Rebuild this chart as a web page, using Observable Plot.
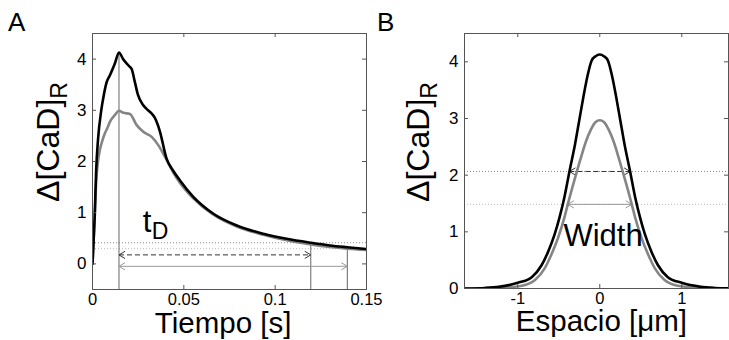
<!DOCTYPE html>
<html>
<head>
<meta charset="utf-8">
<script src="https://cdn.jsdelivr.net/npm/d3@7"></script>
<script src="https://cdn.jsdelivr.net/npm/@observablehq/plot@0.6"></script>
<style>
  body { margin: 0; background: #fff; }
  #fig { position: relative; width: 729px; height: 340px; font-family: "Liberation Sans", Arial, sans-serif; }
  #fig .panel { position: absolute; top: 0; }
  #fig .letter { position: absolute; font-size: 26px; line-height: 1; color: #000; }
</style>
</head>
<body>
<div id="fig"></div>
<script>
// ---- Panel A: time course of Δ[CaD]R at the release site ----
const timeBlack = [0, 0.0006, 0.0012, 0.002, 0.003, 0.0048, 0.0062, 0.0076, 0.0096, 0.0123, 0.0145,
  0.0169, 0.0201, 0.0215, 0.0232, 0.0249, 0.0278, 0.0304, 0.0323, 0.034, 0.0368, 0.0406, 0.044,
  0.0479, 0.0552, 0.0662, 0.079, 0.0935, 0.1063, 0.1195, 0.130, 0.1395, 0.15];
const cadBlack = [0, 0.45, 0.92, 1.83, 2.42, 3.0, 3.3, 3.53, 3.69, 3.92, 4.13,
  3.99, 3.86, 3.8, 3.55, 3.3, 3.1, 3.0, 2.94, 2.86, 2.6, 2.05, 1.83,
  1.63, 1.31, 0.98, 0.75, 0.59, 0.49, 0.413, 0.36, 0.325, 0.29];
const timeGray = [0, 0.0006, 0.0012, 0.002, 0.003, 0.004, 0.0055, 0.0068, 0.0082, 0.0096, 0.0123, 0.0145,
  0.0169, 0.0205, 0.0242, 0.0278, 0.0324, 0.036, 0.0397, 0.044, 0.0479, 0.0552, 0.0662, 0.079,
  0.0935, 0.1063, 0.1195, 0.130, 0.1395, 0.15];
const cadGray = [0, 0.45, 0.9, 1.6, 2.0, 2.22, 2.42, 2.55, 2.66, 2.78, 2.91, 2.99,
  2.95, 2.93, 2.71, 2.58, 2.48, 2.32, 2.09, 1.8, 1.58, 1.28, 0.96, 0.73,
  0.57, 0.46, 0.38, 0.33, 0.297, 0.27];

// decay time t_D: from the peak to 10 % of the peak
const tPeak = 0.0145;
const peakBlack = 4.13;
const levelBlackA = 0.413;
const levelGrayA = 0.297;
const tEndBlack = 0.1195;
const tEndGray = 0.1395;
const arrowBlackA = 0.176;
const arrowGrayA = -0.047;

// ---- Panel B: spatial profile at the peak ----
const posBlack = [-1.65, -1.4, -1.23, -1.0, -0.83, -0.71, -0.63, -0.55, -0.49, -0.43, -0.37, -0.3, -0.25,
  -0.2, -0.15, -0.1, -0.05, 0, 0.05, 0.1, 0.15, 0.2, 0.25, 0.3, 0.37, 0.43, 0.49, 0.55, 0.63, 0.71,
  0.83, 1.0, 1.23, 1.4, 1.65];
const profBlack = [0, 0.01, 0.03, 0.1, 0.2, 0.41, 0.65, 0.96, 1.26, 1.62, 2.065, 2.56, 2.97,
  3.38, 3.75, 4.02, 4.10, 4.13, 4.10, 4.02, 3.75, 3.38, 2.97, 2.56, 2.065, 1.62, 1.26, 0.96, 0.65, 0.41,
  0.2, 0.1, 0.03, 0.01, 0];
const posGray = [-1.65, -1.4, -1.23, -0.95, -0.79, -0.67, -0.59, -0.51, -0.43, -0.39, -0.3, -0.23, -0.17,
  -0.11, -0.05, 0, 0.05, 0.11, 0.17, 0.23, 0.3, 0.39, 0.43, 0.51, 0.59, 0.67, 0.79, 0.95, 1.23, 1.4, 1.65];
const profGray = [0, 0.0, 0.01, 0.05, 0.15, 0.36, 0.6, 0.89, 1.26, 1.485, 1.96, 2.31, 2.59,
  2.8, 2.94, 2.97, 2.94, 2.8, 2.59, 2.31, 1.96, 1.485, 1.26, 0.89, 0.6, 0.36, 0.15, 0.05, 0.01, 0.0, 0];

// full width at half maximum
const levelBlackB = 2.065;
const levelGrayB = 1.485;
const halfBlackB = 0.37;
const halfGrayB = 0.39;

// ---- ticks ----
const xTicksA = [0, 0.05, 0.1, 0.15];
const xTickTextA = ["0", "0.05", "0.1", "0.15"];
const xTicksB = [-1, 0, 1];
const xTickTextB = ["-1", "0", "1"];
const yTicks = [0, 1, 2, 3, 4];
const yTickText = ["0", "1", "2", "3", "4"];

const FONT = '"Liberation Sans", Arial, sans-serif';
const H = 340;
const BLACK = "#000";
const GRAY = "#858585";
const AXIS = "#555";

const rows = (xs, ys) => xs.map((x, i) => ({x, y: ys[i]}));
const lookup = (ticks, text) => { const m = new Map(ticks.map((t, i) => [t, text[i]])); return d => m.get(d); };

// open arrowheads (chevrons) whose tip sits on the anchor point
const headLeft = {draw(ctx, size) { const r = Math.sqrt(size / Math.PI); ctx.moveTo(r, -0.6 * r); ctx.lineTo(0, 0); ctx.lineTo(r, 0.6 * r); }};
const headRight = {draw(ctx, size) { const r = Math.sqrt(size / Math.PI); ctx.moveTo(-r, -0.6 * r); ctx.lineTo(0, 0); ctx.lineTo(-r, 0.6 * r); }};

// frame, inward ticks on all four sides and tick labels
function axesMarks(xTicks, xText, innerW, innerH) {
  return [
    Plot.frame({stroke: AXIS, strokeWidth: 1}),
    Plot.tickX(xTicks, {x: d => d, insetTop: innerH - 4, stroke: AXIS}),
    Plot.tickX(xTicks, {x: d => d, insetBottom: innerH - 4, stroke: AXIS}),
    Plot.tickY(yTicks, {y: d => d, insetRight: innerW - 4, stroke: AXIS}),
    Plot.tickY(yTicks, {y: d => d, insetLeft: innerW - 4, stroke: AXIS}),
    Plot.axisX(xTicks, {tickSize: 0, tickPadding: 4, fontSize: 16.5, label: null, tickFormat: lookup(xTicks, xText)}),
    Plot.axisY(yTicks, {tickSize: 0, tickPadding: 6, fontSize: 17, label: null, tickFormat: lookup(yTicks, yTickText)})
  ];
}

// horizontal double-headed arrow: a (possibly dashed) shaft plus two solid heads
function doubleArrow(x1, x2, y, stroke, dash) {
  const head = {x: "x", y: "y", r: 6, fill: "none", stroke, strokeWidth: 1};
  return [
    Plot.link([{x1, x2, y}], {x1: "x1", x2: "x2", y1: "y", y2: "y", stroke, strokeWidth: 1, strokeDasharray: dash}),
    Plot.dot([{x: x1, y}], {...head, symbol: headLeft}),
    Plot.dot([{x: x2, y}], {...head, symbol: headRight})
  ];
}

function yLabel(svg) {
  const t = d3.select(svg).append("text")
    .attr("transform", "translate(59,142) rotate(-90)")
    .attr("text-anchor", "middle")
    .attr("font-family", FONT)
    .attr("font-size", 32)
    .attr("fill", "#000");
  t.append("tspan").text("Δ[CaD]");
  t.append("tspan").attr("font-size", 23).attr("dy", 8).text("R");
}

const fig = document.getElementById("fig");

// Panel A
{
  const m = {top: 33, right: 4, bottom: 51, left: 92};
  const W = 370;
  const innerW = W - m.left - m.right, innerH = H - m.top - m.bottom;
  const svg = Plot.plot({
    width: W, height: H,
    marginTop: m.top, marginRight: m.right, marginBottom: m.bottom, marginLeft: m.left,
    style: {fontFamily: FONT, fontSize: "16px", color: "#000", background: "transparent", overflow: "visible"},
    x: {domain: [0, 0.15]},
    y: {domain: [-0.5, 4.5]},
    marks: [
      Plot.ruleY([levelBlackA], {stroke: "#888", strokeDasharray: "1,2"}),
      Plot.ruleY([levelGrayA], {stroke: "#bbb", strokeDasharray: "1,2"}),
      Plot.ruleX([{t: tPeak, top: peakBlack}, {t: tEndBlack, top: levelBlackA}, {t: tEndGray, top: levelGrayA}],
        {x: "t", y1: () => -0.5, y2: "top", stroke: "#666", strokeWidth: 1}),
      ...doubleArrow(tPeak, tEndBlack, arrowBlackA, "#333", "5,3"),
      ...doubleArrow(tPeak, tEndGray, arrowGrayA, "#999", null),
      Plot.line(rows(timeGray, cadGray), {x: "x", y: "y", stroke: GRAY, strokeWidth: 2.6, curve: "monotone-x", clip: true}),
      Plot.line(rows(timeBlack, cadBlack), {x: "x", y: "y", stroke: BLACK, strokeWidth: 2.6, curve: "monotone-x", clip: true}),
      Plot.text([{x: 0.0275, y: 0.63}], {x: "x", y: "y", text: () => "t", fontSize: 31, textAnchor: "start", lineAnchor: "bottom", fill: "#000"}),
      Plot.text([{x: 0.0275, y: 0.63}], {x: "x", y: "y", text: () => "D", fontSize: 23, textAnchor: "start", lineAnchor: "bottom", dx: 9, dy: 7, fill: "#000"}),
      Plot.text([{x: 0.0715}], {x: "x", text: () => "Tiempo [s]", frameAnchor: "bottom", lineAnchor: "bottom", dy: 43, fontSize: 29.5, fill: "#000"}),
      ...axesMarks(xTicksA, xTickTextA, innerW, innerH)
    ]
  });
  yLabel(svg);
  svg.classList.add("panel");
  svg.style.left = "0px";
  fig.appendChild(svg);
}

// Panel B
{
  const m = {top: 33, right: 1, bottom: 52, left: 94};
  const W = 359;
  const innerW = W - m.left - m.right, innerH = H - m.top - m.bottom;
  const svg = Plot.plot({
    width: W, height: H,
    marginTop: m.top, marginRight: m.right, marginBottom: m.bottom, marginLeft: m.left,
    style: {fontFamily: FONT, fontSize: "16px", color: "#000", background: "transparent", overflow: "visible"},
    x: {domain: [-1.65, 1.57]},
    y: {domain: [0, 4.5]},
    marks: [
      Plot.ruleY([levelBlackB], {stroke: "#888", strokeDasharray: "1,2"}),
      Plot.ruleY([levelGrayB], {stroke: "#bbb", strokeDasharray: "1,2"}),
      ...doubleArrow(-halfBlackB, halfBlackB, levelBlackB, "#333", "5,3"),
      ...doubleArrow(-halfGrayB, halfGrayB, levelGrayB, "#999", null),
      Plot.line(rows(posGray, profGray), {x: "x", y: "y", stroke: GRAY, strokeWidth: 2.6, curve: "monotone-x", clip: true}),
      Plot.line(rows(posBlack, profBlack), {x: "x", y: "y", stroke: BLACK, strokeWidth: 2.6, curve: "monotone-x", clip: true}),
      Plot.text([{x: 0.04, y: 0.75}], {x: "x", y: "y", text: () => "Width", fontSize: 31, lineAnchor: "bottom", fill: "#000"}),
      Plot.text([{x: 0.02}], {x: "x", text: () => "Espacio [μm]", frameAnchor: "bottom", lineAnchor: "bottom", dy: 42, fontSize: 29.5, fill: "#000"}),
      ...axesMarks(xTicksB, xTickTextB, innerW, innerH)
    ]
  });
  yLabel(svg);
  svg.classList.add("panel");
  svg.style.left = "370px";
  fig.appendChild(svg);
}

// panel letters
for (const [txt, left] of [["A", 8], ["B", 377]]) {
  const d = document.createElement("div");
  d.className = "letter";
  d.textContent = txt;
  d.style.left = left + "px";
  d.style.top = "9px";
  fig.appendChild(d);
}
</script>
</body>
</html>
